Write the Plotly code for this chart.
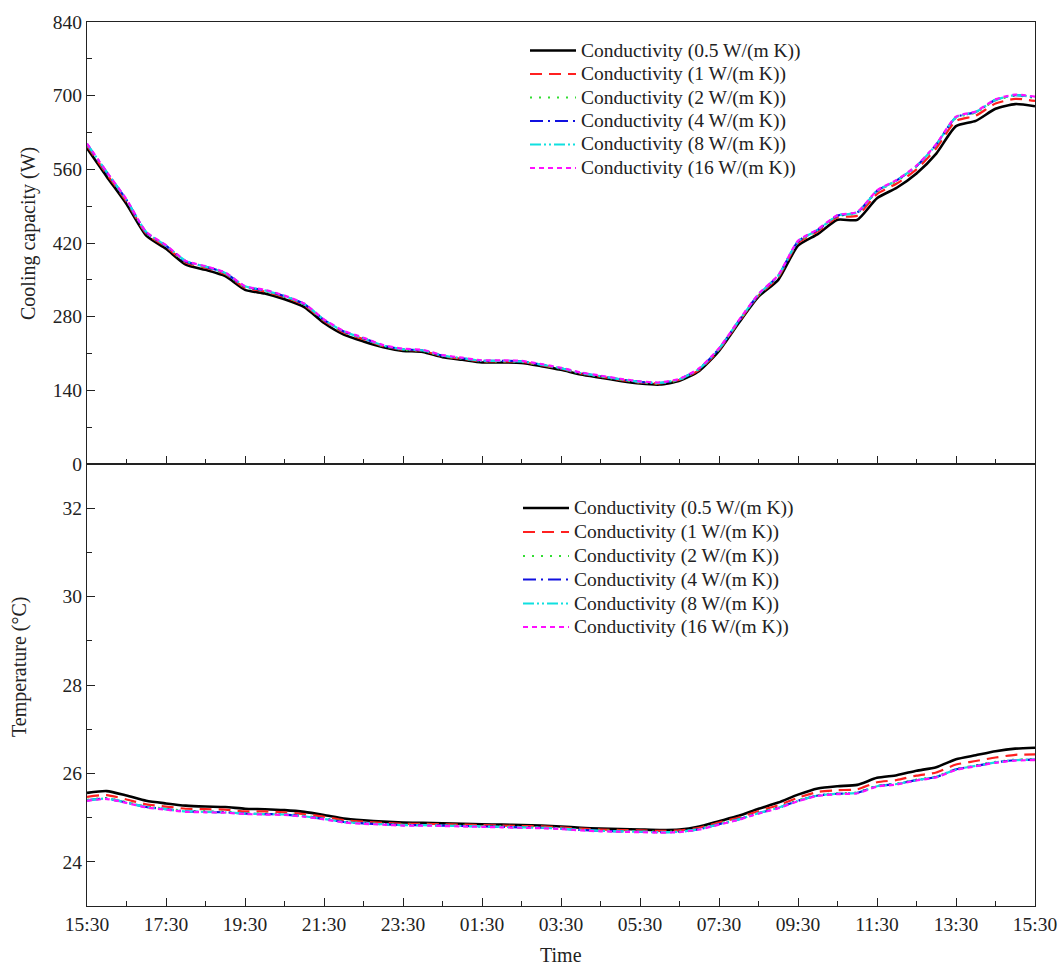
import plotly.graph_objects as go
from plotly.subplots import make_subplots

# Half-hourly samples from 15:30 to 15:30 the next day (hours elapsed)
hours = [i * 0.5 for i in range(49)]
tick_hours = [0, 2, 4, 6, 8, 10, 12, 14, 16, 18, 20, 22, 24]
tick_labels = ["15:30", "17:30", "19:30", "21:30", "23:30", "01:30", "03:30",
               "05:30", "07:30", "09:30", "11:30", "13:30", "15:30"]

series_names = [
    "Conductivity (0.5 W/(m K))",
    "Conductivity (1 W/(m K))",
    "Conductivity (2 W/(m K))",
    "Conductivity (4 W/(m K))",
    "Conductivity (8 W/(m K))",
    "Conductivity (16 W/(m K))",
]

# Cooling capacity (W)
cap_k05 = [600, 546, 494, 434, 409, 379, 369, 357, 331, 324, 313, 298, 268, 246, 233, 222,
           215, 213, 203, 198, 193, 193, 192, 186, 179, 170, 164, 158, 153, 151, 158, 177,
           215, 268, 318, 350, 415, 437, 464, 464, 505, 525, 552, 590, 642, 652, 675, 684, 680]
cap_k1 = [605, 551, 499, 438, 413, 383, 373, 361, 335, 328, 317, 302, 272, 250, 237, 224,
          217, 215, 205, 200, 195, 195, 194, 188, 181, 172, 166, 160, 155, 153, 160, 179,
          217, 270, 320, 355, 420, 442, 469, 472, 513, 533, 560, 600, 652, 662, 685, 694, 690]
cap_k2 = [607, 553, 501, 439, 414, 384, 374, 362, 336, 329, 318, 303, 273, 251, 238, 224,
          217, 215, 205, 200, 195, 195, 194, 188, 181, 172, 166, 160, 155, 153, 160, 180,
          218, 271, 321, 357, 422, 444, 471, 477, 518, 538, 565, 606, 658, 668, 691, 700, 696]
cap_k4 = [608, 554, 502, 440, 415, 385, 375, 363, 337, 330, 319, 304, 274, 252, 239, 225,
          218, 216, 206, 201, 196, 196, 195, 189, 182, 173, 167, 161, 156, 154, 161, 181,
          219, 272, 322, 358, 423, 445, 472, 478, 519, 539, 566, 607, 659, 669, 692, 701, 697]
cap_k8 = [608, 555, 502, 441, 415, 386, 375, 363, 338, 330, 319, 304, 274, 252, 239, 225,
          218, 216, 206, 201, 196, 196, 195, 189, 182, 173, 167, 161, 156, 154, 161, 181,
          219, 272, 322, 358, 423, 445, 472, 478, 519, 539, 566, 607, 659, 669, 692, 701, 697]
cap_k16 = [609, 555, 503, 441, 416, 386, 376, 364, 338, 331, 320, 305, 275, 253, 240, 226,
           219, 217, 207, 202, 197, 197, 196, 190, 183, 174, 168, 162, 157, 155, 162, 182,
           220, 273, 323, 359, 424, 446, 473, 479, 520, 540, 567, 608, 660, 670, 693, 702, 698]

# Temperature (°C)
temp_k05 = [25.56, 25.60, 25.50, 25.38, 25.32, 25.27, 25.25, 25.24, 25.20, 25.19, 25.17, 25.13,
            25.06, 24.98, 24.94, 24.91, 24.89, 24.88, 24.87, 24.86, 24.85, 24.84, 24.83, 24.82,
            24.80, 24.77, 24.75, 24.74, 24.73, 24.72, 24.73, 24.80, 24.92, 25.04, 25.20, 25.34,
            25.52, 25.66, 25.71, 25.74, 25.90, 25.96, 26.06, 26.14, 26.32, 26.41, 26.50, 26.56, 26.58]
temp_k1 = [25.47, 25.51, 25.41, 25.30, 25.25, 25.20, 25.19, 25.18, 25.14, 25.14, 25.12, 25.08,
           25.02, 24.94, 24.91, 24.88, 24.86, 24.86, 24.85, 24.84, 24.83, 24.82, 24.81, 24.80,
           24.78, 24.75, 24.73, 24.72, 24.71, 24.70, 24.71, 24.77, 24.89, 25.00, 25.15, 25.28,
           25.45, 25.58, 25.62, 25.64, 25.80, 25.85, 25.95, 26.02, 26.20, 26.28, 26.36, 26.42, 26.43]
temp_k2 = [25.40, 25.44, 25.35, 25.25, 25.20, 25.15, 25.14, 25.13, 25.10, 25.09, 25.08, 25.04,
           24.98, 24.91, 24.88, 24.86, 24.84, 24.84, 24.83, 24.82, 24.81, 24.80, 24.79, 24.78,
           24.76, 24.73, 24.71, 24.70, 24.69, 24.68, 24.69, 24.75, 24.86, 24.97, 25.11, 25.23,
           25.39, 25.51, 25.55, 25.57, 25.72, 25.77, 25.86, 25.93, 26.10, 26.18, 26.26, 26.31, 26.32]
temp_k4 = [25.39, 25.43, 25.34, 25.24, 25.19, 25.14, 25.13, 25.12, 25.09, 25.08, 25.07, 25.03,
           24.97, 24.90, 24.87, 24.85, 24.83, 24.83, 24.82, 24.81, 24.80, 24.79, 24.78, 24.77,
           24.75, 24.72, 24.70, 24.69, 24.68, 24.67, 24.68, 24.74, 24.85, 24.96, 25.10, 25.22,
           25.38, 25.50, 25.54, 25.56, 25.71, 25.76, 25.85, 25.92, 26.09, 26.17, 26.25, 26.30, 26.31]
temp_k8 = [25.39, 25.43, 25.34, 25.24, 25.19, 25.14, 25.13, 25.12, 25.09, 25.08, 25.07, 25.03,
           24.97, 24.90, 24.87, 24.85, 24.83, 24.83, 24.82, 24.81, 24.80, 24.79, 24.78, 24.77,
           24.75, 24.72, 24.70, 24.69, 24.68, 24.67, 24.68, 24.74, 24.85, 24.96, 25.10, 25.22,
           25.38, 25.50, 25.54, 25.56, 25.71, 25.76, 25.85, 25.92, 26.09, 26.17, 26.25, 26.30, 26.31]
temp_k16 = [25.38, 25.42, 25.33, 25.23, 25.18, 25.13, 25.12, 25.11, 25.08, 25.07, 25.06, 25.02,
            24.96, 24.89, 24.86, 24.84, 24.82, 24.82, 24.81, 24.80, 24.79, 24.78, 24.77, 24.76,
            24.74, 24.71, 24.69, 24.68, 24.67, 24.66, 24.67, 24.73, 24.84, 24.95, 25.09, 25.21,
            25.37, 25.49, 25.53, 25.55, 25.70, 25.75, 25.84, 25.91, 26.08, 26.16, 26.24, 26.29, 26.30]

capacity = [cap_k05, cap_k1, cap_k2, cap_k4, cap_k8, cap_k16]
temperature = [temp_k05, temp_k1, temp_k2, temp_k4, temp_k8, temp_k16]

line_styles = [
    dict(color="#000000", width=2.6, dash="solid"),
    dict(color="#ff2020", width=2.2, dash="12px,7px"),
    dict(color="#33dd33", width=2.2, dash="2px,7px"),
    dict(color="#1010e0", width=2.2, dash="13px,5px,2px,5px"),
    dict(color="#10e0e0", width=2.2, dash="11px,3px,2px,3px,2px,3px"),
    dict(color="#ff10ff", width=2.2, dash="5px,4px"),
]

FONT = "Liberation Serif, Times New Roman, serif"
INK = "#222222"

# Figure geometry in pixels
W, H = 1062, 967
L, R, T, B = 87, 27, 22, 61
PLOT_W, PLOT_H = W - L - R, H - T - B


def px_x(x):
    return (x - L) / PLOT_W


def px_y(y):
    return (H - B - y) / PLOT_H


fig = make_subplots(rows=2, cols=1, shared_xaxes=True, vertical_spacing=0)

for ys, style in zip(capacity, line_styles):
    fig.add_trace(go.Scatter(x=hours, y=ys, mode="lines", showlegend=False,
                             line=dict(shape="spline", smoothing=0.6, **style)),
                  row=1, col=1)

for ys, style in zip(temperature, line_styles):
    fig.add_trace(go.Scatter(x=hours, y=ys, mode="lines", showlegend=False,
                             line=dict(shape="spline", smoothing=0.6, **style)),
                  row=2, col=1)

axis_common = dict(showline=True, linecolor=INK, linewidth=1.4, mirror=True,
                   ticks="inside", ticklen=8, tickwidth=1.4, tickcolor=INK,
                   showgrid=False, zeroline=False, automargin=False,
                   tickfont=dict(family=FONT, size=19.5, color=INK))
minor_common = dict(ticks="inside", ticklen=5, tickwidth=1.2, tickcolor=INK)

fig.update_xaxes(range=[0, 24], tickvals=tick_hours, ticktext=tick_labels,
                 minor=dict(dtick=1, **minor_common), ticklabeloverflow="allow",
                 **axis_common)
fig.update_xaxes(showticklabels=False, row=1, col=1)

fig.update_yaxes(range=[0, 840], tickvals=[0, 140, 280, 420, 560, 700, 840],
                 minor=dict(tickvals=[70, 210, 350, 490, 630, 770], **minor_common),
                 row=1, col=1, **axis_common)
fig.update_yaxes(range=[23, 33], tickvals=[24, 26, 28, 30, 32],
                 minor=dict(tickvals=[25, 27, 29, 31], **minor_common),
                 row=2, col=1, **axis_common)

annotations = [
    dict(text="Cooling capacity (W)", x=0, xshift=28 - L, y=px_y(234),
         textangle=-90),
    dict(text="Temperature (°C)", x=0, xshift=19 - L, y=px_y(667),
         textangle=-90),
    dict(text="Time", x=0.5, y=px_y(955)),
]
for a in annotations:
    a.update(xref="paper", yref="paper", xanchor="center", yanchor="middle",
             showarrow=False, font=dict(family=FONT, size=20, color=INK))

# Legend blocks: a line sample followed by the series name, one row per series
shapes = []
legend_blocks = [
    dict(x0=530, x1=576, text_x=579, rows=[50.5, 74, 97.5, 121, 144.5, 168]),
    dict(x0=523, x1=569, text_x=572, rows=[508, 532, 556, 579.5, 603.5, 627]),
]
for block in legend_blocks:
    for name, style, row_y in zip(series_names, line_styles, block["rows"]):
        shapes.append(dict(type="line", xref="paper", yref="paper",
                           x0=px_x(block["x0"]), x1=px_x(block["x1"]),
                           y0=px_y(row_y), y1=px_y(row_y), line=style))
        annotations.append(dict(text=name, xref="paper", yref="paper",
                                x=px_x(block["text_x"]), y=px_y(row_y),
                                xanchor="left", yanchor="middle", showarrow=False,
                                font=dict(family=FONT, size=19.5, color=INK)))

fig.update_layout(
    width=W, height=H,
    margin=dict(l=L, r=R, t=T, b=B),
    paper_bgcolor="white", plot_bgcolor="white",
    font=dict(family=FONT, color=INK),
    showlegend=False,
    shapes=shapes,
    annotations=annotations,
)

fig.write_html("out.html")
